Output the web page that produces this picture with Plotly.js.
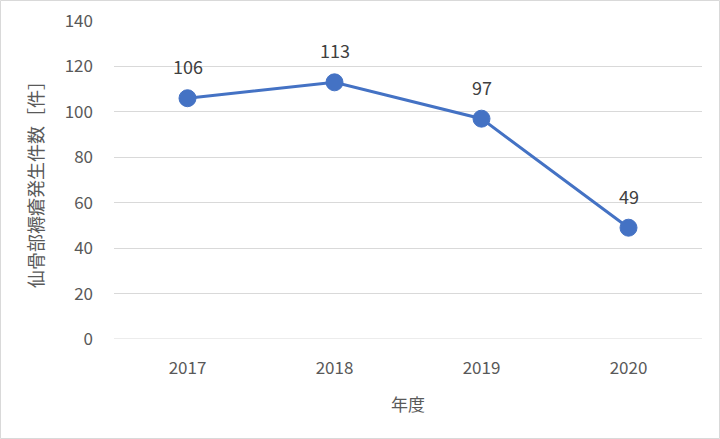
<!DOCTYPE html>
<html><head><meta charset="utf-8">
<script src="https://cdn.plot.ly/plotly-3.0.1.min.js"></script>
<style>html,body{margin:0;padding:0;background:#fff}#c{width:720px;height:439px}</style>
</head><body><div id="c"></div>
<script>
const years = ['2017','2018','2019','2020'];
const counts = [106, 113, 97, 49];
const yTicks = [0,20,40,60,80,100,120,140];
const yTitle = '仙骨部褥瘡発生件数［件］';
const xTitle = '年度';

const L=114, R=18, T=21, B=100, W=720, H=439;
const pw=W-L-R, ph=H-T-B;
const font='"Noto Sans CJK JP", "Noto Sans", sans-serif';

const trace = {
  x: years, y: counts, type:'scatter', mode:'lines+markers',
  line:{color:'#4472C4', width:3},
  marker:{color:'#4472C4', size:17, line:{color:'#4472C4', width:1}},
  hoverinfo:'none'
};
const annotations = years.map((yr,i)=>({
  x: i, y: counts[i], xref:'x', yref:'y', text: String(counts[i]),
  showarrow:false, yshift:32, font:{family:font, size:18, color:'#404040'}
}));
annotations.push({xref:'paper', yref:'paper', x:0.5, y:(0-(403-339))/ph, text:xTitle, showarrow:false,
  font:{family:font,size:17,color:'#595959'}, yanchor:'middle'});
annotations.push({xref:'paper', yref:'paper', x:(35-L)/pw, y:0.5, text:yTitle, showarrow:false, textangle:-90,
  font:{family:font,size:18,color:'#595959'}, xanchor:'center', yanchor:'middle'});

const layout = {
  width:W, height:H, margin:{l:L,r:R,t:T,b:B,pad:0},
  paper_bgcolor:'#fff', plot_bgcolor:'#fff', showlegend:false,
  font:{family:font, color:'#595959'},
  xaxis:{type:'category', range:[-0.5,3.5], showgrid:false, zeroline:false, showline:false,
    ticks:'', tickfont:{family:font,size:17,color:'#595959'}, ticklabelstandoff:17},
  yaxis:{range:[0,140], tickvals:yTicks, showgrid:true, gridcolor:'#d9d9d9', gridwidth:1,
    zeroline:false, showline:false, ticks:'', tickfont:{family:font,size:17,color:'#595959'}, ticklabelstandoff:20},
  annotations: annotations,
  shapes:[
    {type:'line', xref:'paper', yref:'y', x0:0, x1:1, y0:0, y1:0, line:{color:'#d9d9d9', width:1}, layer:'below'},
    {type:'rect', xref:'paper', yref:'paper', x0:(0.5-L)/pw, x1:(W-0.5-L)/pw, y0:-(B-0.5)/ph, y1:(ph+T-0.5)/ph,
    line:{color:'#d9d9d9', width:1}, fillcolor:'rgba(0,0,0,0)'}
  ]
};
Plotly.newPlot('c',[trace],layout,{staticPlot:true, displayModeBar:false});
</script></body></html>
